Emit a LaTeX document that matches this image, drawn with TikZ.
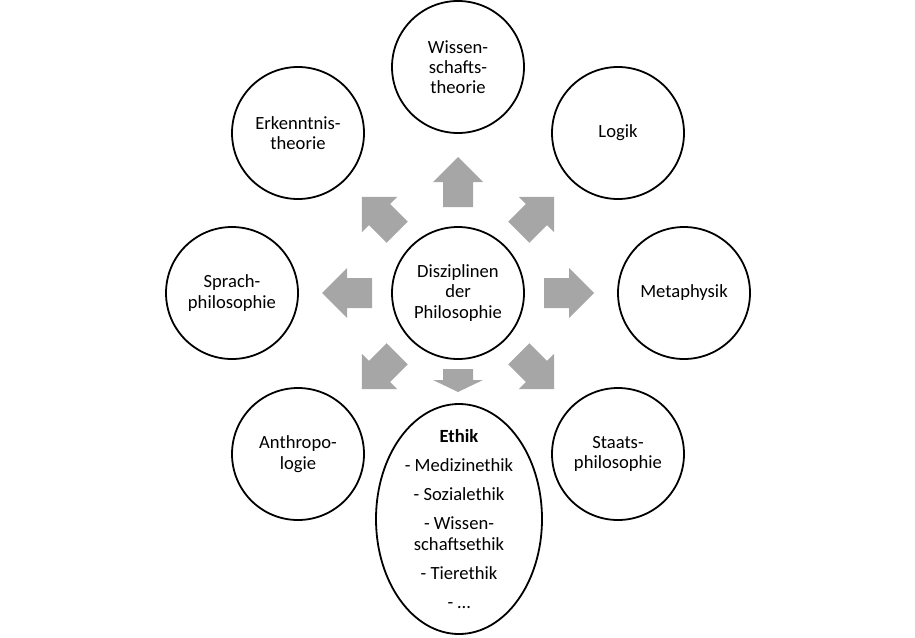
\documentclass[tikz,border=0pt]{standalone}
\usepackage{fontspec}
\setmainfont{Carlito}
\usetikzlibrary{shapes.geometric}
\definecolor{arrowgray}{RGB}{166,166,166}
\begin{document}
\begin{tikzpicture}[x=1pt,y=-1pt,
  disc/.style={circle, draw=black, line width=1.8pt, minimum size=132pt, inner sep=0pt,
    align=center, font=\fontsize{18.6}{20.3}\selectfont},
  oval/.style={ellipse, draw=black, line width=1.8pt, minimum width=166pt, minimum height=230pt, inner sep=0pt},
  ovaltext/.style={align=center, inner sep=0pt, font=\fontsize{18.6}{21}\selectfont},
  blockarrow/.style={fill=arrowgray, draw=none}]
\useasboundingbox (0,0) rectangle (915,637);
\node[disc] (c) at (458,293) {Disziplinen\\der\\Philosophie};
\node[disc] (wiss) at (458,67) {Wissen-\\schafts-\\theorie};
\node[disc] (logik) at (618,133) {Logik};
\node[disc] (meta) at (684,293) {Metaphysik};
\node[disc] (staat) at (618,454) {Staats-\\philosophie};
\node[disc] (anthro) at (298,454) {Anthropo-\\logie};
\node[disc] (sprach) at (232,293) {Sprach-\\philosophie};
\node[disc] (erk) at (298,133) {Erkenntnis-\\theorie};
\node[oval] (ethik) at (459,519) {};
\node[ovaltext] (ethiktext) at (ethik.center) {\textbf{Ethik}\\[8pt] - Medizinethik\\[8pt] - Sozialethik\\[8pt] - Wissen-\\schaftsethik\\[8pt] - Tierethik\\[8pt] - …};
\foreach \a in {0,45,90,135,180,225,315}{
  \fill[blockarrow, shift={(c.center)}, rotate=\a]
    (86,-15) -- (111,-15) -- (111,-25) -- (136,0) -- (111,25) -- (111,15) -- (86,15) -- cycle;
}
\fill[blockarrow, shift={(c.center)}, rotate=-90]
  (76,-15) -- (87,-15) -- (87,-25) -- (99,0) -- (87,25) -- (87,15) -- (76,15) -- cycle;
\end{tikzpicture}
\end{document}
